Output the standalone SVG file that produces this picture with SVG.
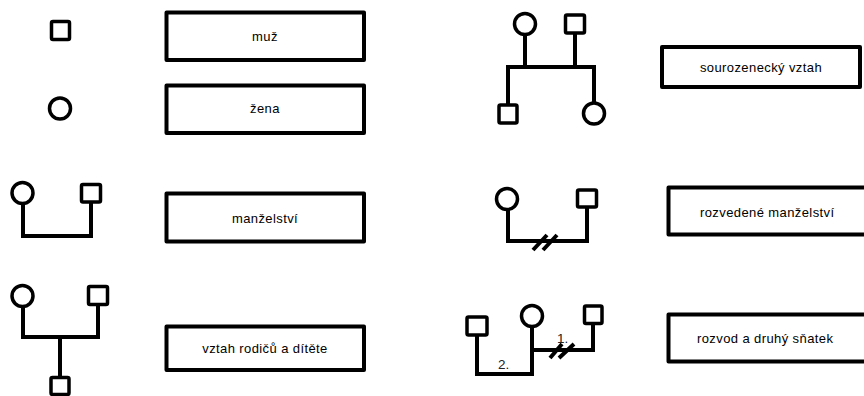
<svg xmlns="http://www.w3.org/2000/svg" width="864" height="396" viewBox="0 0 864 396">
<style>
.sym{fill:#fff;stroke:#000;stroke-width:3.5;stroke-linejoin:round}
.box{fill:#fff;stroke:#000;stroke-width:4;stroke-linejoin:round}
.ln{fill:none;stroke:#000;stroke-width:4;stroke-linejoin:miter;stroke-linecap:square}
.sl{fill:none;stroke:#000;stroke-width:4;stroke-linecap:butt}
.t{font-family:"Liberation Sans",Arial,sans-serif;font-size:13px;letter-spacing:0.4px;fill:#000}
.m{text-anchor:middle}
.n{font-family:"Liberation Sans",Arial,sans-serif;font-size:13.5px;fill:#222}
</style>
<rect width="864" height="396" fill="#fff"/>
<g id="connectors">
<path class="ln" d="M23,203.5 V236 H91 V202"/>
<path class="ln" d="M23,306.5 V337 H98 V304.5 M60,337 V377"/>
<path class="ln" d="M525,34.5 V67 M575,33 V67 M508,105 V67 H594 V102.5"/>
<path class="ln" d="M508,209.5 V241 H587 V207"/>
<path class="sl" d="M533,250 L547,235 M543,250 L557,235"/>
<path class="ln" d="M477,335 V374 H532 V326.5 M532,350 H593 V323.5"/>
<path class="sl" d="M550,358 L562,344 M559,358 L574,344"/>
</g>
<g id="symbol-muz"><rect class="sym" x="51.5" y="21.5" width="18" height="18" rx="1.5"/></g>
<g id="symbol-zena"><circle class="sym" cx="60" cy="108.5" r="10.5"/></g>
<g id="marriage-wife"><circle class="sym" cx="22.5" cy="193" r="10.5"/></g>
<g id="marriage-husband"><rect class="sym" x="81.5" y="184.5" width="19" height="17.5" rx="1.5"/></g>
<g id="parents-mother"><circle class="sym" cx="22.5" cy="296" r="10.5"/></g>
<g id="parents-father"><rect class="sym" x="88.5" y="286.5" width="19" height="18" rx="1.5"/></g>
<g id="parents-child"><rect class="sym" x="51" y="377.5" width="18" height="17" rx="1.5"/></g>
<g id="siblings-mother"><circle class="sym" cx="525" cy="24" r="10.5"/></g>
<g id="siblings-father"><rect class="sym" x="565.5" y="15" width="19" height="18" rx="1.5"/></g>
<g id="siblings-son"><rect class="sym" x="499" y="105" width="18" height="18" rx="1.5"/></g>
<g id="siblings-daughter"><circle class="sym" cx="594" cy="113.5" r="10.5"/></g>
<g id="divorce-wife"><circle class="sym" cx="507" cy="199" r="10.5"/></g>
<g id="divorce-husband"><rect class="sym" x="577.5" y="190" width="19" height="17" rx="1.5"/></g>
<g id="remarriage-husband2"><rect class="sym" x="467" y="317" width="20" height="18" rx="1.5"/></g>
<g id="remarriage-wife"><circle class="sym" cx="532" cy="316" r="10.5"/></g>
<g id="remarriage-husband1"><rect class="sym" x="584.5" y="306" width="17.5" height="17.5" rx="1.5"/></g>
<g id="labels-numbers">
<text class="n" x="557" y="343">1.</text>
<text class="n" x="498" y="369">2.</text>
</g>
<g id="box-muz"><rect class="box" x="166.5" y="12.5" width="197.5" height="47.5"/><text class="t m" x="265" y="40.5">muž</text></g>
<g id="box-zena"><rect class="box" x="166.5" y="85.5" width="197.5" height="47.5"/><text class="t m" x="265" y="113">žena</text></g>
<g id="box-manzelstvi"><rect class="box" x="166.5" y="193.5" width="197.5" height="48"/><text class="t m" x="265" y="222.5">manželství</text></g>
<g id="box-rodice"><rect class="box" x="166.5" y="326.5" width="197.5" height="43.5"/><text class="t m" x="265" y="353">vztah rodičů a dítěte</text></g>
<g id="box-sourozenci"><rect class="box" x="662" y="47" width="198" height="40"/><text class="t m" x="761" y="72">sourozenecký vztah</text></g>
<g id="box-rozvedene"><rect class="box" x="668.5" y="187.5" width="220" height="47"/><text class="t" x="700" y="216.5">rozvedené manželství</text></g>
<g id="box-rozvod"><rect class="box" x="668.5" y="314.5" width="220" height="47"/><text class="t" x="697" y="342.5">rozvod a druhý sňatek</text></g>
</svg>
